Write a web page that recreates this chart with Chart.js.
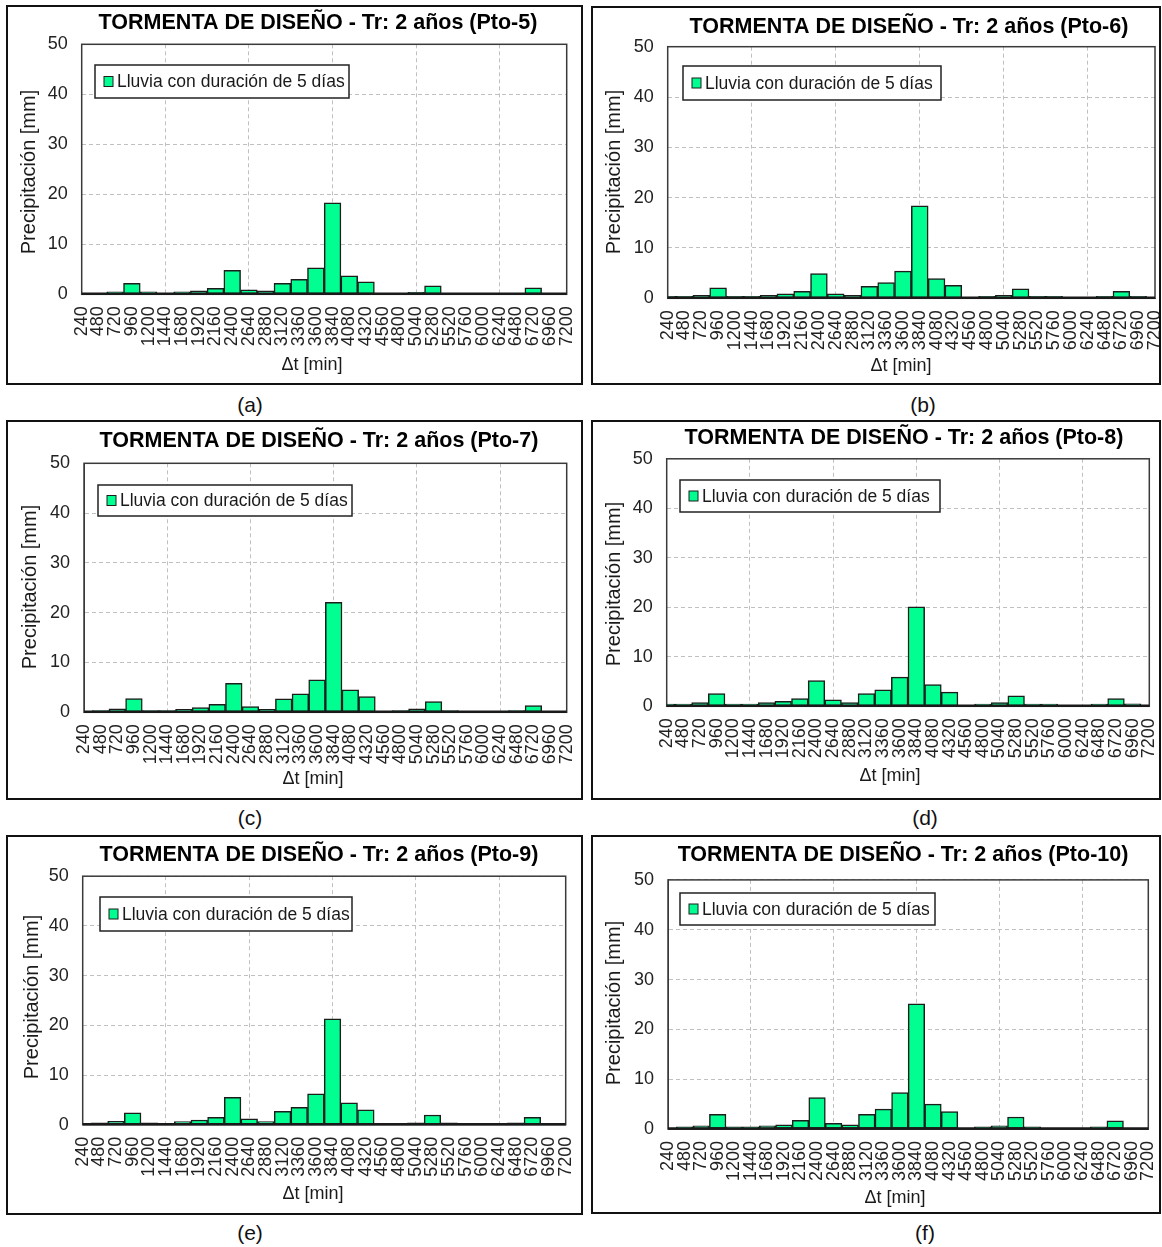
<!DOCTYPE html>
<html lang="es">
<head>
<meta charset="utf-8">
<title>Tormenta de diseño - Tr: 2 años</title>
<script src="https://cdn.jsdelivr.net/npm/chart.js@4.4.1/dist/chart.umd.min.js"></script>
<style>
  html, body { margin:0; padding:0; background:#fff; }
  body { width:1162px; height:1247px; position:relative; overflow:hidden; font-family:'Liberation Sans', Arial, sans-serif; }
  .panel { position:absolute; }
  .panel canvas { display:block; }
  .caption { position:absolute; width:80px; margin-left:-40px; text-align:center; font-size:21px; line-height:24px; color:#111; }
</style>
</head>
<body>
<script>
// =====================================================
// Datos - Tormenta de diseño Tr 2 años
// =====================================================

const intervalos = [240,480,720,960,1200,1440,1680,1920,2160,2400,2640,2880,3120,3360,3600,
                    3840,4080,4320,4560,4800,5040,5280,5520,5760,6000,6240,6480,6720,6960,7200];

const lluviaPto5  = [0.1,0.15,0.5,2.2,0.5,0.1,0.5,0.7,1.2,4.8,0.9,0.7,2.2,3.0,5.3,18.3,3.7,2.5,0.1,0.1,0.4,1.7,0.1,0.1,0.1,0.1,0.1,1.3,0.1,0.1];
const lluviaPto6  = [0.4,0.4,0.6,2.1,0.4,0.4,0.6,0.9,1.4,4.9,0.9,0.6,2.4,3.1,5.4,18.4,3.9,2.6,0.1,0.4,0.6,1.9,0.4,0.4,0.2,0.2,0.4,1.4,0.4,0.2];
const lluviaPto7  = [0.1,0.35,0.7,2.75,0.35,0.35,0.6,0.95,1.6,5.8,1.15,0.6,2.7,3.7,6.5,22.1,4.5,3.15,0.1,0.35,0.7,2.15,0.35,0.1,0.1,0.1,0.35,1.35,0.1,0.1];
const lluviaPto8  = [0.45,0.45,0.75,2.55,0.45,0.45,0.75,1.0,1.55,5.2,1.3,0.75,2.55,3.35,5.9,20.1,4.4,2.85,0.2,0.45,0.75,2.1,0.45,0.45,0.2,0.2,0.45,1.55,0.5,0.2];
const lluviaPto9  = [0.1,0.4,0.7,2.4,0.4,0.1,0.65,0.95,1.5,5.5,1.2,0.65,2.7,3.5,6.2,21.3,4.4,3.0,0.1,0.1,0.4,1.95,0.4,0.1,0.1,0.1,0.4,1.5,0.1,0.1];
const lluviaPto10 = [0.1,0.45,0.65,2.95,0.45,0.45,0.65,0.85,1.75,6.3,1.15,0.85,2.95,4.0,7.3,25.1,5.0,3.5,0.1,0.45,0.65,2.4,0.45,0.1,0.1,0.1,0.45,1.65,0.1,0.1];

const tituloBase  = "TORMENTA DE DISEÑO - Tr: 2 años";
const nombreSerie = "Lluvia con duración de 5 días";
const tituloY     = "Precipitación [mm]";
const tituloX     = "Δt [min]";
const ticksY      = [0, 10, 20, 30, 40, 50];

// ---------- Layout (page px) ----------

const paneles = [
  { punto:"Pto-5",  serie:lluviaPto5,  letra:"(a)", box:[6,5,583,385],      plot:[81.7,44.3,566.7,294.3],    titulo:[318,23],   yTit:[29,172],   xTit:[312,365],  ley:[95,65,349,98],    cap:[250,405] },
  { punto:"Pto-6",  serie:lluviaPto6,  letra:"(b)", box:[591,6,1161,385],   plot:[667.7,46.7,1155,298.3],    titulo:[909,27],   yTit:[614,172],  xTit:[901,366],  ley:[683,66,941,100],  cap:[923,405] },
  { punto:"Pto-7",  serie:lluviaPto7,  letra:"(c)", box:[6,420,583,800],    plot:[84,463.3,566.7,712.3],     titulo:[319,441],  yTit:[30,587],   xTit:[313,779],  ley:[98,485,352,516],  cap:[250,818] },
  { punto:"Pto-8",  serie:lluviaPto8,  letra:"(d)", box:[591,420,1161,800], plot:[666.7,458.8,1149.3,706.3], titulo:[904,438],  yTit:[614,584],  xTit:[890,776],  ley:[680,480,940,512], cap:[925,818] },
  { punto:"Pto-9",  serie:lluviaPto9,  letra:"(e)", box:[6,835,583,1215],   plot:[82.7,876.2,565.7,1124.7],  titulo:[319,855],  yTit:[32,997],   xTit:[313,1194], ley:[100,897,352,931], cap:[250,1233] },
  { punto:"Pto-10", serie:lluviaPto10, letra:"(f)", box:[591,835,1161,1214],plot:[668,879.9,1148.3,1129],    titulo:[903,855],  yTit:[614,1003], xTit:[895,1198], ley:[680,893,935,925], cap:[925,1233] }
];

const FONT = "'Liberation Sans', Arial, sans-serif";
const Y_W = 60;
const X_H = 62;


// =====================================================
// Plugin: marco, títulos y leyenda
// =====================================================

const marcoPlugin = {

    id:"marco",

    afterDatasetsDraw(chart, args, o){

        const a = chart.chartArea;
        const ctx = chart.ctx;

        ctx.save();
        ctx.strokeStyle = "#3a3a3a";
        ctx.lineWidth = 1.5;
        ctx.strokeRect(a.left, a.top, a.right - a.left, a.bottom - a.top);

        // línea base más marcada (barras casi nulas)
        ctx.strokeStyle = "#1a1a1a";
        ctx.lineWidth = 2.5;
        ctx.beginPath();
        ctx.moveTo(a.left, a.bottom - 0.5);
        ctx.lineTo(a.right, a.bottom - 0.5);
        ctx.stroke();
        ctx.restore();

    },

    afterDraw(chart, args, o){

        const ctx = chart.ctx;
        const w = chart.width;
        const h = chart.height;
        const bx = o.box[0];
        const by = o.box[1];

        ctx.save();

        // borde del gráfico
        ctx.strokeStyle = "#111";
        ctx.lineWidth = 2;
        ctx.strokeRect(1, 1, w - 2, h - 2);

        // título
        ctx.fillStyle = "#000";
        ctx.textAlign = "center";
        ctx.textBaseline = "middle";
        ctx.font = "bold 21.5px " + FONT;
        ctx.fillText(o.titulo, o.tPos[0] - bx, o.tPos[1] - by);

        // título eje x
        ctx.fillStyle = "#1a1a1a";
        ctx.font = "18px " + FONT;
        ctx.fillText(tituloX, o.xPos[0] - bx, o.xPos[1] - by);

        // título eje y
        ctx.save();
        ctx.translate(o.yPos[0] - bx, o.yPos[1] - by);
        ctx.rotate(-Math.PI / 2);
        ctx.font = "20px " + FONT;
        ctx.fillText(tituloY, 0, 0);
        ctx.restore();

        // leyenda
        const ds = chart.data.datasets[0];
        const L = o.ley[0] - bx, T = o.ley[1] - by, R = o.ley[2] - bx, B = o.ley[3] - by;
        ctx.fillStyle = "#fff";
        ctx.fillRect(L, T, R - L, B - T);
        ctx.strokeStyle = "#222";
        ctx.lineWidth = 1.5;
        ctx.strokeRect(L, T, R - L, B - T);

        const cy = (T + B) / 2;
        ctx.fillStyle = ds.backgroundColor;
        ctx.fillRect(L + 9, cy - 5, 9, 10);
        ctx.strokeStyle = ds.borderColor;
        ctx.lineWidth = 1;
        ctx.strokeRect(L + 9, cy - 5, 9, 10);

        ctx.fillStyle = "#1a1a1a";
        ctx.textAlign = "left";
        ctx.font = "17.5px " + FONT;
        ctx.fillText(ds.label, L + 22, cy + 1);

        ctx.restore();

    }

};


// =====================================================
// Build Charts
// =====================================================

function buildPanel(p){

    const [bL, bT, bR, bB] = p.box;
    const [pL, pT, pR, pB] = p.plot;

    const div = document.createElement("div");
    div.className = "panel";
    div.style.left = bL + "px";
    div.style.top = bT + "px";
    div.style.width = (bR - bL) + "px";
    div.style.height = (bB - bT) + "px";

    const canvas = document.createElement("canvas");
    div.appendChild(canvas);
    document.body.appendChild(div);

    const cap = document.createElement("div");
    cap.className = "caption";
    cap.textContent = p.letra;
    cap.style.left = p.cap[0] + "px";
    cap.style.top = (p.cap[1] - 12) + "px";
    document.body.appendChild(cap);

    new Chart(canvas, {

        type:"bar",

        data:{
            labels:intervalos,
            datasets:[{
                label:nombreSerie,
                data:p.serie,
                backgroundColor:"#00ff90",
                borderColor:"#1c1c1c",
                borderWidth:1.5,
                borderSkipped:false,
                barPercentage:1,
                categoryPercentage:1,
                clip:0
            }]
        },

        options:{

            responsive:true,
            maintainAspectRatio:false,
            animation:false,

            layout:{
                padding:{
                    left: pL - bL - Y_W,
                    right: bR - pR,
                    top: pT - bT,
                    bottom: bB - pB - X_H
                }
            },

            scales:{

                x:{
                    type:"category",
                    offset:false,
                    ticks:{
                        autoSkip:false,
                        minRotation:90,
                        maxRotation:90,
                        padding:12,
                        color:"#222",
                        font:{ family:FONT, size:18 }
                    },
                    grid:{
                        offset:false,
                        drawTicks:false,
                        lineWidth:1,
                        color: ctx => (ctx.index % 5 === 0 ? "#c0c0c0" : "rgba(0,0,0,0)")
                    },
                    border:{ color:"#3a3a3a", width:1, dash:[4,3] },
                    afterFit: s => {
                        s.height = X_H;
                        s.paddingLeft = 0;
                        s.paddingRight = 0;
                    }
                },

                y:{
                    min:ticksY[0],
                    max:ticksY[ticksY.length - 1],
                    ticks:{
                        stepSize:ticksY[1] - ticksY[0],
                        padding:14,
                        color:"#222",
                        font:{ family:FONT, size:18 }
                    },
                    grid:{ color:"#c0c0c0", lineWidth:1, drawTicks:false },
                    border:{ color:"#3a3a3a", width:1, dash:[4,3] },
                    afterFit: s => {
                        s.width = Y_W;
                        s.paddingTop = 0;
                        s.paddingBottom = 0;
                    }
                }

            },

            plugins:{
                legend:{ display:false },
                tooltip:{ enabled:false },
                marco:{
                    box:p.box,
                    titulo:tituloBase + " (" + p.punto + ")",
                    tPos:p.titulo,
                    xPos:p.xTit,
                    yPos:p.yTit,
                    ley:p.ley
                }
            }

        },

        plugins:[marcoPlugin]

    });

}

paneles.forEach(buildPanel);
</script>
</body>
</html>
